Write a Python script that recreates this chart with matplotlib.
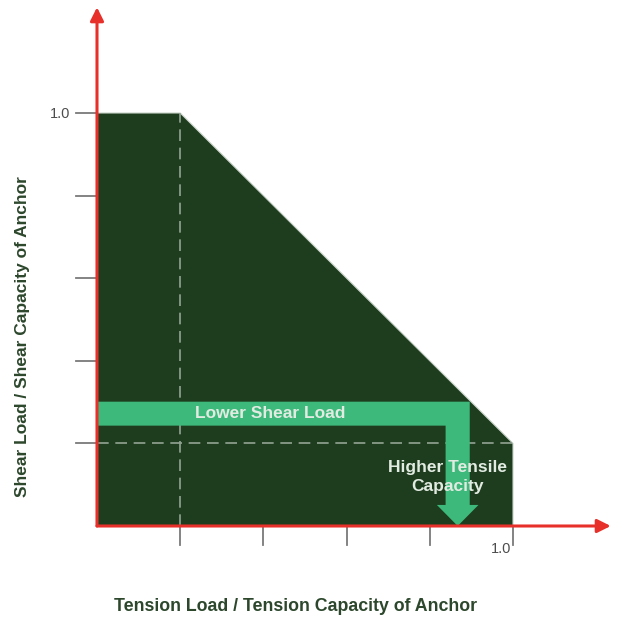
import matplotlib
matplotlib.use("Agg")
import matplotlib.pyplot as plt
from matplotlib.patches import Polygon, FancyArrowPatch

# ---- data ----
env_x = [0.0, 0.0, 0.2, 1.0, 1.0]
env_y = [0.0, 1.0, 1.0, 0.2, 0.0]
tick_vals = [0.2, 0.4, 0.6, 0.8, 1.0]
tick_label = "1.0"
ref_level = 0.2          # dashed reference lines
shear_level = 0.272      # "Lower Shear Load" arrow level
tensile_pos = 0.867      # "Higher Tensile Capacity" arrow position
xlabel = "Tension Load / Tension Capacity of Anchor"
ylabel = "Shear Load / Shear Capacity of Anchor"
arrow_text1 = "Lower Shear Load"
arrow_text2 = "Higher Tensile\nCapacity"

DARK = "#1e3d1e"
LIGHT = "#3cb97b"
RED = "#e8302a"
TXT = "#2c472c"
GREY = "#7a7a7a"

fig = plt.figure(figsize=(6.21, 6.23), dpi=100)
ax = fig.add_axes([0, 0, 1, 1])
ax.set_xlim(-97 / 416, 524 / 416)
ax.set_ylim(-97 / 413, 526 / 413)
ax.axis("off")

# envelope
ax.add_patch(Polygon(list(zip(env_x, env_y)), closed=True, facecolor=DARK,
                     edgecolor="#c9d3c9", lw=0.8, zorder=2))

# dashed reference lines
ax.plot([ref_level, ref_level], [0, 1.0], color="#93a393", lw=1.2,
        dashes=(7, 4), zorder=3)
ax.plot([0, 1.0], [ref_level, ref_level], color="#93a393", lw=1.2,
        dashes=(7, 4), zorder=3)

# green L-shaped arrow
hw = 0.029
head_w = 0.05
head_len = 0.051
pts = [(0, shear_level + hw), (tensile_pos + hw, shear_level + hw),
       (tensile_pos + hw, head_len), (tensile_pos + head_w, head_len),
       (tensile_pos, 0.0), (tensile_pos - head_w, head_len),
       (tensile_pos - hw, head_len), (tensile_pos - hw, shear_level - hw),
       (0, shear_level - hw)]
ax.add_patch(Polygon(pts, closed=True, facecolor=LIGHT, edgecolor="none", zorder=4))

ax.text(0.416, shear_level, arrow_text1, color="#e2ebe2", fontsize=12.5,
        fontweight="bold", ha="center", va="center", zorder=5,
        family="Liberation Sans")
ax.text(0.843, 0.118, arrow_text2, color="#e2ebe2", fontsize=12.5,
        fontweight="bold", ha="center", va="center", zorder=5,
        linespacing=1.3, family="Liberation Sans")

# ticks
for v in tick_vals:
    ax.plot([v, v], [0, -0.046], color=GREY, lw=1.3, zorder=3)
    ax.plot([0, -0.05], [v, v], color=GREY, lw=1.3, zorder=3)

ax.text(-0.065, 0.997, tick_label, color="#4d4d4d", fontsize=10.5,
        ha="right", va="center", family="Liberation Sans")
ax.text(0.972, -0.055, tick_label, color="#4d4d4d", fontsize=10.5,
        ha="center", va="center", family="Liberation Sans")

# axes with arrows
ax.add_patch(FancyArrowPatch((0, 0), (0, 1.256), arrowstyle="-|>,head_length=8,head_width=4",
                             color=RED, lw=2.2, zorder=6, shrinkA=0, shrinkB=0))
ax.add_patch(FancyArrowPatch((0, 0), (1.235, 0), arrowstyle="-|>,head_length=8,head_width=4",
                             color=RED, lw=2.2, zorder=6, shrinkA=0, shrinkB=0))

# axis labels
ax.text(0.478, -0.196, xlabel, color=TXT, fontsize=12.8, fontweight="bold",
        ha="center", va="center", family="Liberation Sans")
ax.text(-0.18, 0.458, ylabel, color=TXT, fontsize=12.5, fontweight="bold",
        ha="center", va="center", rotation=90, family="Liberation Sans")

fig.savefig("out.png", dpi=100, facecolor="white")
